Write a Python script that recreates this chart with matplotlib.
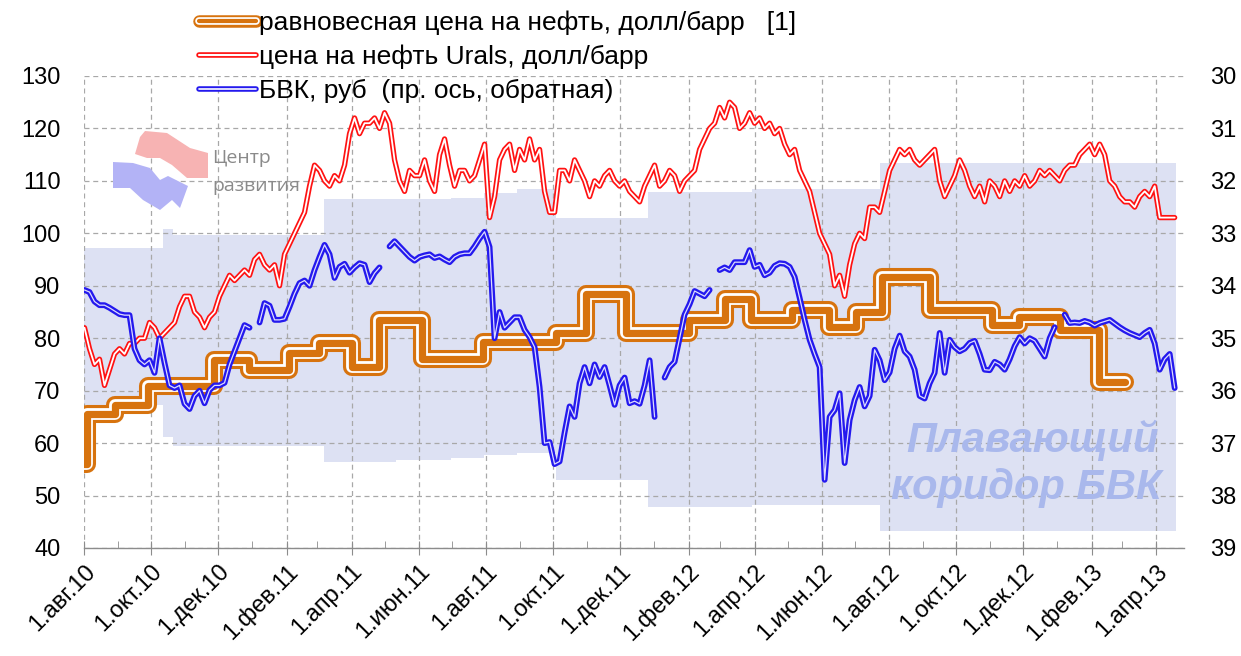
import numpy as np
import pandas as pd
import matplotlib
matplotlib.use('Agg')
import matplotlib.pyplot as plt
import matplotlib.dates as mdates
import matplotlib.ticker as mticker
from matplotlib.lines import Line2D
from matplotlib.legend_handler import HandlerTuple
from matplotlib.patches import Polygon

plt.rcParams['font.family'] = ['Liberation Sans', 'DejaVu Sans']

# ---------------- data ----------------
month_names = ['янв', 'фев', 'мар', 'апр', 'май', 'июн',
               'июл', 'авг', 'сен', 'окт', 'ноя', 'дек']
legend_labels = ['равновесная цена на нефть, долл/барр   [1]',
                 'цена на нефть Urals, долл/барр',
                 'БВК, руб  (пр. ось, обратная)']
watermark_lines = ['Плавающий', 'коридор БВК']
logo_lines = ['Центр', 'развития']

series_start = '2010-08-01 11:00'
series_step = '109h'

urals = [82, 78, 75, 76, 71, 74, 77, 78, 77, 79,
         79, 80, 80, 83, 82, 80, 81, 82, 83, 86,
         88, 88, 85, 84, 82, 84, 85, 88, 90, 92,
         91, 92, 93, 92, 95, 96, 94, 93, 94, 90,
         96, 98, 100, 102, 104, 109, 113, 112, 110, 109,
         111, 110, 113, 119, 122, 119, 121, 121, 122, 120,
         123, 121, 114, 110, 108, 112, 111, 111, 114, 110,
         108, 115, 118, 113, 109, 112, 112, 110, 111, 114,
         117, 103, 107, 114, 116, 117, 112, 116, 114, 118,
         114, 116, 108, 104, 104, 112, 112, 110, 114, 112,
         110, 107, 110, 109, 111, 112, 110, 109, 110, 108,
         107, 106, 109, 111, 113, 109, 110, 112, 111, 108,
         110, 111, 112, 116, 118, 120, 121, 124, 122, 125,
         124, 120, 121, 123, 121, 122, 120, 121, 119, 120,
         117, 115, 116, 112, 110, 108, 104, 100, 98, 96,
         90, 92, 88, 94, 98, 100, 99, 105, 105, 104,
         108, 112, 114, 116, 115, 116, 114, 113, 114, 115,
         116, 110, 107, 109, 111, 114, 112, 109, 107, 109,
         106, 110, 109, 107, 110, 108, 110, 109, 111, 109,
         110, 112, 111, 112, 111, 110, 112, 113, 113, 115,
         116, 117, 115, 117, 115, 110, 109, 107, 106, 106,
         105, 107, 108, 107, 109, 103, 103, 103, 103]

nan = np.nan
bvk = [34.08, 34.12, 34.30, 34.37, 34.37, 34.42, 34.48, 34.54, 34.56, 34.56,
       35.20, 35.42, 35.50, 35.42, 35.66, 35.00, 35.47, 35.90, 35.95, 35.90,
       36.25, 36.35, 36.10, 36.00, 36.24, 35.99, 35.90, 35.90, 35.85, 35.50,
       35.25, 35.00, 34.75, 34.80, nan, 34.70, 34.33, 34.38, 34.65, 34.65,
       34.63, 34.40, 34.15, 33.95, 33.90, 34.00, 33.70, 33.45, 33.22, 33.40,
       33.85, 33.64, 33.58, 33.75, 33.65, 33.57, 33.60, 33.93, 33.76, 33.65,
       nan, 33.25, 33.15, 33.25, 33.35, 33.45, 33.52, 33.45, 33.42, 33.40,
       33.47, 33.44, 33.50, 33.55, 33.45, 33.40, 33.38, 33.38, 33.25, 33.10,
       32.97, 33.26, 35.00, 34.50, 34.80, 34.70, 34.60, 34.60, 34.84, 34.98,
       35.17, 35.93, 37.00, 36.98, 37.40, 37.35, 36.80, 36.30, 36.50, 35.86,
       35.55, 35.86, 35.50, 35.74, 35.55, 35.90, 36.27, 35.90, 35.75, 36.24,
       36.20, 36.25, 35.90, 35.42, 36.50, nan, 35.75, 35.55, 35.45, 35.00,
       34.55, 34.35, 34.10, 34.15, 34.20, 34.08, nan, 33.70, 33.65, 33.70,
       33.55, 33.55, 33.55, 33.32, 33.64, 33.60, 33.80, 33.75, 33.62, 33.57,
       33.58, 33.64, 33.83, 34.23, 34.65, 35.03, 35.30, 35.55, 37.70, 36.50,
       36.37, 36.05, 37.38, 36.56, 36.18, 35.93, 36.30, 36.10, 35.22, 35.42,
       35.80, 35.65, 35.20, 34.95, 35.25, 35.35, 35.60, 36.10, 36.15, 35.86,
       35.66, 34.90, 35.66, 35.03, 35.17, 35.25, 35.20, 35.09, 35.05, 35.30,
       35.60, 35.61, 35.45, 35.50, 35.60, 35.40, 35.15, 34.98, 35.10, 35.00,
       35.05, 35.20, 35.35, 35.00, 34.79, nan, 34.55, 34.71, 34.70, 34.71,
       34.67, 34.70, 34.76, 34.71, 34.68, 34.65, 34.72, 34.79, 34.85, 34.90,
       34.94, 34.98, 34.90, 34.84, 35.10, 35.60, 35.40, 35.30, 35.95]

eq_dates = ['2010-08-01', '2010-08-04', '2010-08-29', '2010-09-28', '2010-11-27',
            '2010-12-29', '2011-02-03', '2011-03-02', '2011-04-01', '2011-04-26',
            '2011-06-04', '2011-07-29', '2011-10-04', '2011-10-31', '2011-12-06',
            '2012-02-01', '2012-03-05', '2012-03-29', '2012-05-05', '2012-06-08',
            '2012-07-02', '2012-07-26', '2012-09-07', '2012-11-03', '2012-11-27',
            '2013-01-03', '2013-02-08', '2013-03-03']
eq_price = [56.0, 65.5, 67.3, 70.8, 75.8,
            74.0, 77.2, 79.0, 74.5, 83.5,
            76.0, 79.3, 81.0, 88.5, 81.0,
            83.5, 87.5, 83.5, 85.4, 82.2,
            85.0, 91.7, 85.4, 82.5, 84.0,
            81.6, 71.6, 71.6]

band_dates = ['2010-08-01', '2010-10-12', '2010-10-21', '2011-03-07', '2011-05-11',
              '2011-06-30', '2011-07-30', '2011-08-29', '2011-10-04', '2011-12-26',
              '2012-03-30', '2012-07-24', '2013-04-19']
band_strong = [33.28, 32.92, 33.03, 32.35, 32.35, 32.33, 32.23, 32.16, 32.71, 32.21,
               32.16, 31.66, 31.66]
band_weak = [36.28, 36.88, 37.06, 37.36, 37.33, 37.29, 37.23, 37.18, 37.70, 38.22,
             38.18, 38.68, 38.68]

# ---------------- styles ----------------
C_OR = '#d7730e'
C_RED = '#ff1212'
C_BLUE = '#2419ee'
C_BAND = '#dde1f3'
C_GRID = '#a8a8a8'
W, H = 1241, 656


def fx(px):
    return px / W


def fy(py):
    return 1 - py / H


fig = plt.figure(figsize=(W / 100, H / 100), dpi=100)
ax = fig.add_axes([fx(84), fy(548), fx(1184) - fx(84), fy(76) - fy(548)])
ax2 = ax.twinx()

d_series = pd.date_range(series_start, periods=len(urals), freq=series_step)
d_eq = pd.to_datetime(eq_dates)
d_band = pd.to_datetime(band_dates)

# corridor band (ruble scale, drawn under the grid of the left axis)
ax.fill_between(d_band, band_strong, band_weak, step='post', color=C_BAND,
                lw=0, zorder=0.5, transform=ax2.transData)

# equilibrium price (triple compound line)
for col, lw in [(C_OR, 13), ('white', 8.5), (C_OR, 5.2)]:
    ax.plot(d_eq, eq_price, drawstyle='steps-post', color=col, lw=lw,
            solid_joinstyle='round', solid_capstyle='round', zorder=3)

# Urals
for col, lw in [(C_RED, 3.8), ('white', 1.3)]:
    ax.plot(d_series, urals, color=col, lw=lw, solid_joinstyle='round',
            solid_capstyle='round', zorder=4)

# BVK on inverted right axis
for col, lw in [(C_BLUE, 4.2), ('white', 0.9)]:
    ax2.plot(d_series[:len(bvk)], bvk, color=col, lw=lw, solid_joinstyle='round',
             solid_capstyle='round', zorder=5, alpha=1 if col != 'white' else 0.85)

# axes limits
ax.set_xlim(pd.Timestamp('2010-08-01'), pd.Timestamp('2013-04-26'))
ax.set_ylim(40, 130)
ax2.set_ylim(39, 30)
ax.yaxis.set_major_locator(mticker.MultipleLocator(10))
ax2.yaxis.set_major_locator(mticker.MultipleLocator(1))

ax.xaxis.set_major_locator(mdates.MonthLocator(bymonth=[2, 4, 6, 8, 10, 12]))
ax.xaxis.set_minor_locator(mdates.MonthLocator())


def fmt_date(x, pos=None):
    d = mdates.num2date(x)
    return f"1.{month_names[d.month - 1]}.{d:%y}"


ax.xaxis.set_major_formatter(mticker.FuncFormatter(fmt_date))

ax.grid(True, which='major', axis='both', linestyle=(0, (4, 3)), color=C_GRID, lw=0.9)
ax.set_axisbelow(True)

for a in (ax, ax2):
    for s in ('left', 'right', 'top', 'bottom'):
        a.spines[s].set_visible(False)
ax.spines['bottom'].set_visible(True)
ax.spines['bottom'].set_color('#8c8c8c')
ax.spines['bottom'].set_linewidth(1.0)

ax.tick_params(axis='x', which='major', direction='inout', length=10, color='#8c8c8c',
               labelsize=17, pad=4)
ax.tick_params(axis='x', which='minor', direction='in', length=5, color='#8c8c8c')
ax.tick_params(axis='y', length=0, labelsize=17, pad=17)
ax2.tick_params(axis='y', length=0, labelsize=17, pad=19)
plt.setp(ax.get_xticklabels(), rotation=45, ha='right', va='top', rotation_mode='anchor')

# watermark
fig.text(fx(1032), fy(440), watermark_lines[0], ha='center', va='center', fontsize=30,
         fontweight='bold', fontstyle='italic', color='#a9b8ec', zorder=1)
fig.text(fx(1026), fy(488), watermark_lines[1], ha='center', va='center', fontsize=30,
         fontweight='bold', fontstyle='italic', color='#a9b8ec', zorder=1)

# logo
pink = [(140, 137), (145, 131), (167, 133), (190, 148), (208, 153), (208, 178),
        (187, 178), (172, 165), (160, 158), (147, 158), (135, 154)]
blue = [(113, 162), (133, 163), (150, 168), (160, 180), (168, 176), (188, 186),
        (180, 208), (172, 200), (160, 210), (143, 200), (130, 188), (113, 188)]
fig.patches.append(Polygon([(fx(a), fy(b)) for a, b in pink], closed=True,
                           transform=fig.transFigure, color='#f7b3b3', lw=0))
fig.patches.append(Polygon([(fx(a), fy(b)) for a, b in blue], closed=True,
                           transform=fig.transFigure, color='#b3b3f6', lw=0))
fig.text(fx(212), fy(158), logo_lines[0], ha='left', va='center', fontsize=14,
         color='#8a8a8a', family='Open Sans')
fig.text(fx(212), fy(186), logo_lines[1], ha='left', va='center', fontsize=14,
         color='#8a8a8a', family='Open Sans')

# legend
h_or = (Line2D([], [], color=C_OR, lw=9, solid_capstyle='round'),
        Line2D([], [], color='white', lw=5.5, solid_capstyle='round'),
        Line2D([], [], color=C_OR, lw=3, solid_capstyle='round'))
h_red = (Line2D([], [], color=C_RED, lw=4, solid_capstyle='round'),
         Line2D([], [], color='white', lw=1.5, solid_capstyle='round'))
h_blue = (Line2D([], [], color=C_BLUE, lw=4, solid_capstyle='round'),
          Line2D([], [], color='white', lw=1.2, solid_capstyle='round'))
fig.legend([h_or, h_red, h_blue], legend_labels,
           handler_map={tuple: HandlerTuple(ndivide=1, pad=0)},
           loc='upper left', bbox_to_anchor=(fx(194), fy(5)), frameon=False,
           fontsize=19, handlelength=2.15, handletextpad=0.12, labelspacing=0.38,
           borderaxespad=0, borderpad=0.2)

fig.savefig('out.png', dpi=100)
